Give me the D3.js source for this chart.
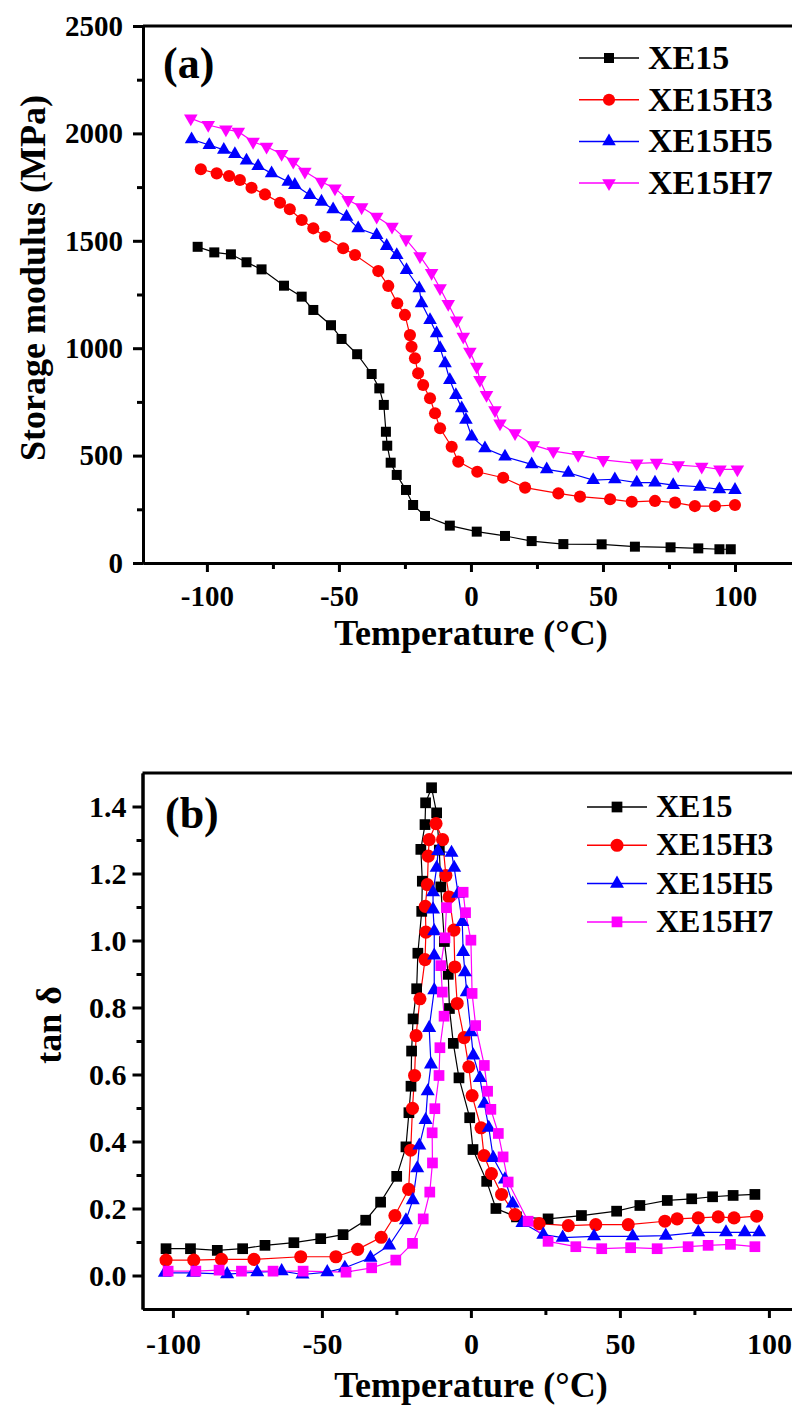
<!DOCTYPE html>
<html>
<head>
<meta charset="utf-8">
<script src="https://cdn.jsdelivr.net/npm/d3@7"></script>
<style>
  html, body { margin: 0; padding: 0; background: #fff; }
  svg { display: block; }
  text { font-family: "Liberation Serif", "Times New Roman", serif; font-weight: bold; }
</style>
</head>
<body>
<svg id="chart" width="792" height="1408"></svg>
<script>
// ---------- Data ----------
const seriesNames = ["XE15", "XE15H3", "XE15H5", "XE15H7"];
const seriesColors = ["#000000", "#ff0000", "#0000ff", "#ff00ff"];

// Panel (a): Storage modulus (MPa) vs Temperature (°C)
const modulusXE15 = [[-103.5,1472],[-97.2,1446],[-90.9,1437],[-85.0,1400],[-79.3,1367],[-70.8,1291],[-64.1,1240],[-59.7,1178],[-53.0,1107],[-49.0,1043],[-43.1,972],[-37.6,880],[-34.7,813],[-33.0,736],[-32.2,611],[-31.7,546],[-30.4,467],[-28.1,410],[-24.6,340],[-21.9,270],[-17.4,219],[-8.0,174],[2.2,146],[12.9,126],[23.0,102],[35.0,88],[49.5,87],[62.1,76],[75.6,73],[86.1,68],[94.1,64],[98.4,64]];
const modulusXE15H3 = [[-102.3,1833],[-96.3,1814],[-91.6,1802],[-87.5,1783],[-83.1,1747],[-78.0,1716],[-72.3,1677],[-68.6,1647],[-64.1,1597],[-59.7,1558],[-55.3,1519],[-48.4,1465],[-43.9,1434],[-35.1,1359],[-31.3,1290],[-27.9,1209],[-25.0,1155],[-23.1,1061],[-22.5,1007],[-21.2,953],[-20.0,883],[-18.1,829],[-15.5,767],[-13.6,697],[-11.7,627],[-7.3,541],[-4.8,472],[2.4,425],[12.2,397],[20.5,351],[33.1,324],[41.3,309],[52.7,297],[60.9,285],[69.7,289],[77.3,281],[84.8,265],[92.4,265],[100.0,270]];
const modulusXE15H5 = [[-105.8,1972],[-99.1,1946],[-93.6,1923],[-89.4,1904],[-85.0,1873],[-80.6,1848],[-75.5,1814],[-69.2,1775],[-66.7,1760],[-61.0,1713],[-56.6,1682],[-52.2,1647],[-47.1,1612],[-42.7,1558],[-35.7,1527],[-31.9,1476],[-28.1,1434],[-24.4,1364],[-19.6,1279],[-18.7,1209],[-15.5,1131],[-13.0,1069],[-11.7,1000],[-9.8,930],[-8.0,852],[-5.7,782],[-3.5,720],[-1.9,666],[0.3,588],[5.3,534],[12.9,495],[23.0,459],[28.7,436],[36.9,420],[46.3,386],[54.5,390],[62.8,374],[69.7,374],[76.6,363],[86.7,355],[94.1,343],[100.0,340]];
const modulusXE15H7 = [[-106.1,2070],[-99.5,2039],[-92.8,2019],[-88.1,2008],[-82.5,1961],[-77.4,1938],[-71.7,1904],[-67.3,1868],[-62.9,1822],[-56.6,1775],[-51.5,1744],[-46.5,1690],[-41.4,1656],[-35.7,1612],[-29.9,1566],[-24.6,1507],[-19.3,1429],[-14.9,1351],[-11.7,1279],[-8.6,1206],[-5.4,1129],[-2.9,1054],[-0.4,984],[2.2,914],[3.4,852],[5.9,782],[9.1,712],[11.0,650],[16.7,604],[23.6,549],[31.2,521],[40.6,503],[50.1,480],[62.8,464],[70.3,467],[78.5,456],[87.4,448],[94.3,436],[100.9,436]];

// Panel (b): tan δ vs Temperature (°C)
const tanXE15 = [[-102.3,0.080],[-94.1,0.080],[-85.1,0.075],[-76.6,0.080],[-69.1,0.090],[-59.4,0.098],[-50.4,0.110],[-42.9,0.122],[-35.3,0.165],[-30.3,0.219],[-24.9,0.296],[-21.8,0.384],[-20.8,0.486],[-20.1,0.565],[-19.9,0.670],[-19.4,0.766],[-18.2,0.856],[-17.8,0.962],[-16.5,1.087],[-16.3,1.177],[-16.8,1.272],[-15.4,1.346],[-15.2,1.411],[-13.2,1.456],[-11.5,1.381],[-10.6,1.270],[-10.1,1.160],[-8.9,0.997],[-7.6,0.899],[-7.2,0.797],[-5.9,0.693],[-4.0,0.590],[-0.4,0.471],[0.7,0.376],[5.3,0.281],[8.4,0.200],[15.3,0.175],[25.9,0.169],[37.1,0.179],[48.9,0.192],[56.7,0.209],[65.9,0.224],[74.1,0.229],[81.1,0.235],[88.0,0.239],[95.3,0.242]];
const tanXE15H3 = [[-102.3,0.046],[-93.0,0.046],[-83.7,0.048],[-72.8,0.048],[-57.1,0.056],[-45.3,0.056],[-38.0,0.078],[-30.1,0.114],[-25.5,0.179],[-20.9,0.257],[-20.2,0.374],[-19.6,0.499],[-18.9,0.597],[-18.4,0.716],[-17.1,0.826],[-15.4,0.943],[-15.1,1.025],[-15.3,1.102],[-14.6,1.167],[-14.3,1.252],[-14.0,1.301],[-11.7,1.349],[-9.5,1.301],[-8.4,1.194],[-7.3,1.130],[-5.7,1.031],[-5.4,0.921],[-4.6,0.812],[-2.3,0.710],[-0.7,0.623],[0.4,0.537],[3.4,0.441],[4.4,0.358],[6.9,0.304],[10.3,0.242],[14.8,0.182],[22.9,0.155],[32.7,0.149],[41.9,0.152],[52.8,0.152],[65.1,0.162],[69.2,0.169],[76.3,0.172],[83.0,0.175],[88.3,0.172],[95.9,0.177]];
const tanXE15H5 = [[-102.7,0.008],[-93.2,0.008],[-81.8,0.004],[-71.7,0.010],[-63.5,0.013],[-56.5,0.003],[-48.2,0.010],[-42.3,0.023],[-33.7,0.053],[-27.4,0.090],[-21.8,0.165],[-19.5,0.225],[-18.0,0.320],[-17.3,0.388],[-15.2,0.464],[-14.5,0.550],[-13.4,0.630],[-14.0,0.739],[-12.3,0.852],[-12.3,0.955],[-12.3,1.028],[-12.7,1.093],[-12.7,1.144],[-11.5,1.217],[-11.0,1.267],[-6.5,1.262],[-5.6,1.217],[-4.3,1.140],[-2.9,1.055],[-2.6,0.966],[-2.0,0.905],[-1.4,0.846],[0.0,0.726],[0.8,0.657],[3.0,0.590],[4.5,0.513],[6.0,0.441],[7.5,0.351],[11.4,0.287],[14.0,0.215],[17.3,0.157],[24.3,0.122],[30.8,0.113],[41.3,0.117],[54.3,0.117],[65.4,0.119],[76.3,0.129],[85.6,0.129],[91.9,0.129],[96.7,0.129]];
const tanXE15H7 = [[-101.6,0.013],[-92.3,0.013],[-84.5,0.016],[-77.0,0.013],[-66.4,0.013],[-56.3,0.013],[-41.9,0.010],[-33.3,0.023],[-25.2,0.046],[-19.6,0.096],[-16.0,0.169],[-13.8,0.249],[-12.9,0.336],[-13.0,0.426],[-12.1,0.498],[-10.7,0.597],[-10.4,0.680],[-9.0,0.774],[-9.6,0.846],[-10.1,0.925],[-8.7,1.008],[-8.2,1.098],[-2.6,1.144],[-1.8,1.083],[0.0,1.001],[0.4,0.842],[1.6,0.746],[4.5,0.627],[5.6,0.550],[6.7,0.496],[9.2,0.424],[10.8,0.354],[12.5,0.279],[19.2,0.162],[25.9,0.102],[35.2,0.086],[43.9,0.080],[53.6,0.083],[62.5,0.080],[72.9,0.086],[79.6,0.090],[87.1,0.093],[95.3,0.086]];

// Ticks
const xTicksMajor = [-100, -50, 0, 50, 100];
const xTicksMinor = [-75, -25, 25, 75];
const yTicksA = [0, 500, 1000, 1500, 2000, 2500];
const yTicksAMinor = [250, 750, 1250, 1750, 2250];
const yTicksB = [0.0, 0.2, 0.4, 0.6, 0.8, 1.0, 1.2, 1.4];
const yTicksBMinor = [0.1, 0.3, 0.5, 0.7, 0.9, 1.1, 1.3];

// ---------- Drawing ----------
const svg = d3.select("#chart");
svg.append("rect").attr("width", 792).attr("height", 1408).attr("fill", "#fff");

function drawPanel(cfg) {
  const { x, y, series, markers, yMajor, yMinor, yFmt, label, labelPos, yTitle, yTitlePos, xTitleY,
          legend, tickFont, xPad, yPad } = cfg;
  const g = svg.append("g");
  const [x0, x1] = x.range();
  const [yb, yt] = y.range();

  // connecting lines + markers
  const line = d3.line().x(d => x(d[0])).y(d => y(d[1]));
  series.forEach((data, i) => {
    g.append("path").datum(data).attr("d", line)
      .attr("fill", "none").attr("stroke", seriesColors[i]).attr("stroke-width", 1.2);
  });
  series.forEach((data, i) => {
    const m = markers[i];
    g.selectAll(null).data(data).enter().append("path")
      .attr("d", d3.symbol().type(m.type).size(m.size)())
      .attr("transform", d => `translate(${x(d[0])},${y(d[1])})${m.rot ? " rotate(180)" : ""}`)
      .attr("fill", seriesColors[i]);
  });

  // top frame line and right frame
  g.append("line").attr("x1", x0).attr("x2", x1).attr("y1", yt).attr("y2", yt)
    .attr("stroke", "#000").attr("stroke-width", 3);
  g.append("line").attr("x1", x1).attr("x2", x1).attr("y1", yt).attr("y2", yb)
    .attr("stroke", "#000").attr("stroke-width", 3);

  // axes
  const xAxis = g.append("g").attr("transform", `translate(0,${yb})`)
    .call(d3.axisBottom(x).tickValues(xTicksMajor).tickSize(9).tickSizeOuter(0).tickPadding(xPad).tickFormat(d => String(d)));
  const xAxisMinor = g.append("g").attr("transform", `translate(0,${yb})`)
    .call(d3.axisBottom(x).tickValues(xTicksMinor).tickSize(6).tickSizeOuter(0).tickFormat(""));
  const yAxis = g.append("g").attr("transform", `translate(${x0},0)`)
    .call(d3.axisLeft(y).tickValues(yMajor).tickSize(10).tickSizeOuter(0).tickPadding(yPad).tickFormat(yFmt));
  const yAxisMinor = g.append("g").attr("transform", `translate(${x0},0)`)
    .call(d3.axisLeft(y).tickValues(yMinor).tickSize(6).tickSizeOuter(0).tickFormat(""));
  [xAxis, xAxisMinor, yAxis, yAxisMinor].forEach(a => {
    a.select(".domain").attr("stroke", "#000").attr("stroke-width", 3);
    a.selectAll(".tick line").attr("stroke", "#000").attr("stroke-width", 3);
    a.selectAll(".tick text").attr("fill", "#000")
      .style("font-family", '"Liberation Serif", "Times New Roman", serif')
      .style("font-weight", "bold").style("font-size", tickFont + "px");
  });

  // panel label
  g.append("text").attr("x", labelPos[0]).attr("y", labelPos[1])
    .style("font-size", "44px").text(label);

  // axis titles
  g.append("text").attr("x", 471).attr("y", xTitleY).attr("text-anchor", "middle")
    .style("font-size", "36px").text("Temperature (°C)");
  g.append("text").attr("transform", `translate(${yTitlePos[0]},${yTitlePos[1]}) rotate(-90)`)
    .attr("text-anchor", "middle").style("font-size", "36px").text(yTitle);

  // legend
  seriesNames.forEach((name, i) => {
    const ly = legend.y0 + i * legend.dy;
    g.append("line").attr("x1", legend.x0).attr("x2", legend.x0 + 60).attr("y1", ly).attr("y2", ly)
      .attr("stroke", seriesColors[i]).attr("stroke-width", 1.5);
    const m = markers[i];
    g.append("path").attr("d", d3.symbol().type(m.type).size(m.size)())
      .attr("transform", `translate(${legend.x0 + 30},${ly})${m.rot ? " rotate(180)" : ""}`)
      .attr("fill", seriesColors[i]);
    g.append("text").attr("x", legend.x0 + 69).attr("y", ly + legend.base)
      .style("font-size", legend.font + "px").text(name);
  });
}

const xA = d3.scaleLinear().domain([-124.2, 125]).range([143, 801]);
const yA = d3.scaleLinear().domain([0, 2500]).range([563, 26]);
drawPanel({
  x: xA, y: yA,
  series: [modulusXE15, modulusXE15H3, modulusXE15H5, modulusXE15H7],
  markers: [
    { type: d3.symbolSquare, size: 100 },
    { type: d3.symbolCircle, size: 115 },
    { type: d3.symbolTriangle, size: 80 },
    { type: d3.symbolTriangle, size: 80, rot: true }
  ],
  yMajor: yTicksA, yMinor: yTicksAMinor, yFmt: d => String(d),
  label: "(a)", labelPos: [163, 78],
  yTitle: "Storage modulus (MPa)", yTitlePos: [45, 278],
  xTitleY: 645,
  legend: { x0: 579, y0: 58, dy: 41.7, base: 11, font: 34 },
  tickFont: 29, xPad: 13, yPad: 10
});

const xB = d3.scaleLinear().domain([-110.2, 110]).range([142.5, 798.7]);
const yB = d3.scaleLinear().domain([-0.1, 1.5]).range([1309, 773]);
drawPanel({
  x: xB, y: yB,
  series: [tanXE15, tanXE15H3, tanXE15H5, tanXE15H7],
  markers: [
    { type: d3.symbolSquare, size: 115 },
    { type: d3.symbolCircle, size: 135 },
    { type: d3.symbolTriangle, size: 85 },
    { type: d3.symbolSquare, size: 115 }
  ],
  yMajor: yTicksB, yMinor: yTicksBMinor, yFmt: d3.format(".1f"),
  label: "(b)", labelPos: [165, 828],
  yTitle: "tan δ", yTitlePos: [61, 1025],
  xTitleY: 1397,
  legend: { x0: 587, y0: 807, dy: 38.3, base: 10, font: 32 },
  tickFont: 30, xPad: 15, yPad: 6
});
</script>
</body>
</html>
